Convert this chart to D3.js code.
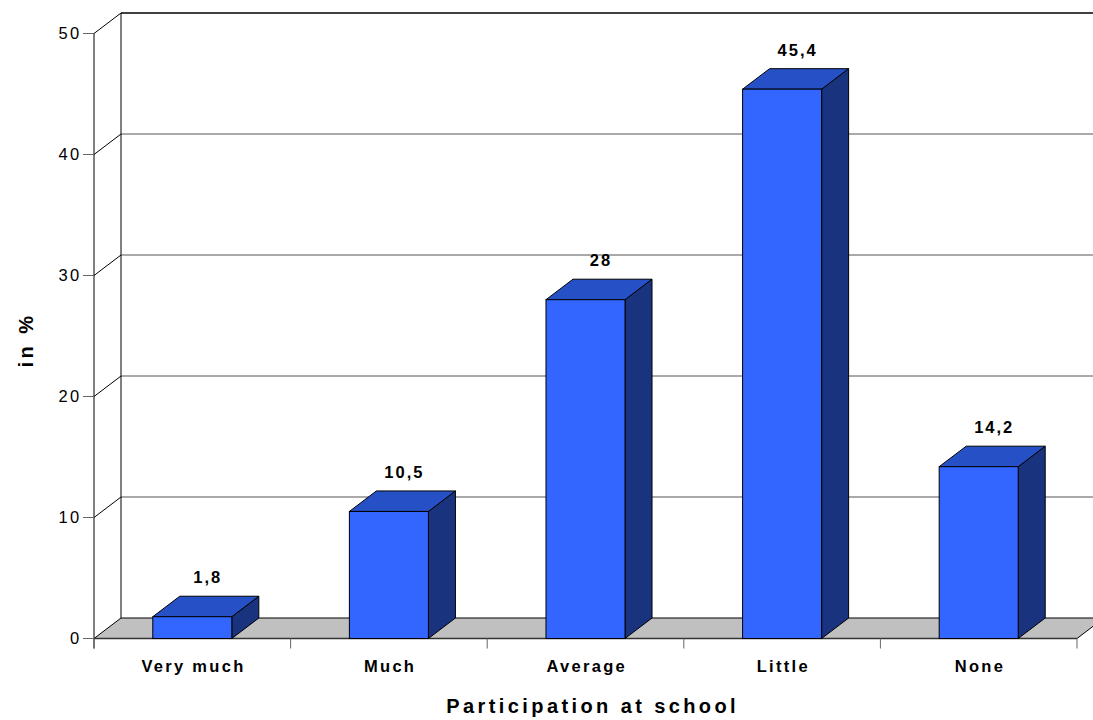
<!DOCTYPE html>
<html>
<head>
<meta charset="utf-8">
<script src="https://cdn.jsdelivr.net/npm/d3@7"></script>
<style>
  html, body { margin: 0; padding: 0; background: #fff; }
  svg { display: block; font-family: "Liberation Sans", Arial, sans-serif; }
</style>
</head>
<body>
<svg id="chart" width="1093" height="720"></svg>
<script>
// Share of pupils by level of participation at school (%)
const categories = ["Very much", "Much", "Average", "Little", "None"];
const values = [1.8, 10.5, 28, 45.4, 14.2];
const valueLabels = ["1,8", "10,5", "28", "45,4", "14,2"];
const yTicks = [0, 10, 20, 30, 40, 50];

const svg = d3.select("#chart");

// Front plane of the 3D box and the depth offset to the back wall
const x0 = 94, x1 = 1077;
const depthX = 27, depthY = -20.5;

const x = d3.scaleBand()
  .domain(categories)
  .range([x0, x1])
  .paddingInner(0.598)
  .paddingOuter(0.299);

const step = x.step();

const y = d3.scaleLinear().domain([0, 50]).range([638.5, 33.5]);

const colFront = "#3366FF", colTop = "#2650C6", colSide = "#1A337F";

// Floor
svg.append("polygon")
  .attr("points", [
    [x0, y(0)], [x1, y(0)], [x1 + depthX, y(0) + depthY], [x0 + depthX, y(0) + depthY]
  ].map(p => p.join(",")).join(" "))
  .attr("fill", "#C0C0C0")
  .attr("stroke", "#000")
  .attr("stroke-width", 1);

// Gridlines on the back wall and their diagonals on the side wall
const grid = svg.append("g");
yTicks.filter(t => t > 0).forEach(t => {
  grid.append("line")
    .attr("x1", x0 + depthX).attr("x2", 1100)
    .attr("y1", y(t) + depthY).attr("y2", y(t) + depthY)
    .attr("stroke", t === 50 ? "#000" : "#555")
    .attr("stroke-width", t === 50 ? 1.5 : 1);
  grid.append("line")
    .attr("x1", x0).attr("x2", x0 + depthX)
    .attr("y1", y(t)).attr("y2", y(t) + depthY)
    .attr("stroke", "#000").attr("stroke-width", 1);
});

// Back wall edge and front value axis
svg.append("line")
  .attr("x1", x0 + depthX).attr("x2", x0 + depthX)
  .attr("y1", y(50) + depthY).attr("y2", y(0) + depthY)
  .attr("stroke", "#000");
svg.append("line")
  .attr("x1", x0).attr("x2", x0)
  .attr("y1", y(50)).attr("y2", y(0) + 10)
  .attr("stroke", "#000");
svg.append("line")
  .attr("x1", x0).attr("x2", x1)
  .attr("y1", y(0)).attr("y2", y(0))
  .attr("stroke", "#333").attr("stroke-width", 1.5);

// Y axis ticks and labels
const yAxis = svg.append("g");
yTicks.forEach(t => {
  yAxis.append("line")
    .attr("x1", x0 - 11).attr("x2", x0)
    .attr("y1", y(t)).attr("y2", y(t))
    .attr("stroke", "#666");
  yAxis.append("text")
    .attr("x", 81.5).attr("y", y(t) + 5.8)
    .attr("text-anchor", "end")
    .attr("font-size", 16.5)
    .attr("letter-spacing", 2.3)
    .attr("fill", "#000")
    .text(t);
});

// Category ticks along the front baseline
const tickPositions = d3.range(categories.length + 1).map(i => x0 + i * step);
tickPositions.forEach(px => {
  svg.append("line")
    .attr("x1", px).attr("x2", px)
    .attr("y1", y(0)).attr("y2", y(0) + 10)
    .attr("stroke", "#666");
});

// Bars: side, top, front faces
const bars = svg.append("g").selectAll("g")
  .data(categories.map((c, i) => ({ c, v: values[i], label: valueLabels[i] })))
  .join("g");

bars.append("polygon")
  .attr("points", d => {
    const xr = x(d.c) + x.bandwidth();
    return [[xr, y(d.v)], [xr + depthX, y(d.v) + depthY], [xr + depthX, y(0) + depthY], [xr, y(0)]]
      .map(p => p.join(",")).join(" ");
  })
  .attr("fill", colSide).attr("stroke", "#000").attr("stroke-width", 1).attr("stroke-linejoin", "round");

bars.append("polygon")
  .attr("points", d => {
    const xl = x(d.c), xr = xl + x.bandwidth();
    return [[xl, y(d.v)], [xr, y(d.v)], [xr + depthX, y(d.v) + depthY], [xl + depthX, y(d.v) + depthY]]
      .map(p => p.join(",")).join(" ");
  })
  .attr("fill", colTop).attr("stroke", "#000").attr("stroke-width", 1).attr("stroke-linejoin", "round");

bars.append("rect")
  .attr("x", d => x(d.c))
  .attr("y", d => y(d.v))
  .attr("width", x.bandwidth())
  .attr("height", d => y(0) - y(d.v))
  .attr("fill", colFront).attr("stroke", "#000").attr("stroke-width", 1);

// Value labels above each bar
bars.append("text")
  .attr("x", d => x(d.c) + x.bandwidth() / 2 + depthX / 2 + 2)
  .attr("y", d => y(d.v) + depthY - 13)
  .attr("text-anchor", "middle")
  .attr("font-size", 16.5)
  .attr("font-weight", "bold")
  .attr("letter-spacing", 2)
  .attr("fill", "#000")
  .text(d => d.label);

// Category labels
svg.append("g").selectAll("text")
  .data(categories)
  .join("text")
  .attr("x", d => x(d) + x.bandwidth() / 2 + 1.2)
  .attr("y", 672)
  .attr("text-anchor", "middle")
  .attr("font-size", 16.5)
  .attr("font-weight", "bold")
  .attr("letter-spacing", 2.3)
  .attr("fill", "#000")
  .text(d => d);

// Axis titles
svg.append("text")
  .attr("x", 591 + 1.7).attr("y", 713)
  .attr("text-anchor", "middle")
  .attr("font-size", 20)
  .attr("font-weight", "bold")
  .attr("letter-spacing", 3.4)
  .attr("fill", "#000")
  .text("Participation at school");

svg.append("text")
  .attr("transform", "translate(33,340) rotate(-90)")
  .attr("text-anchor", "middle")
  .attr("font-size", 20)
  .attr("font-weight", "bold")
  .attr("letter-spacing", 3.5)
  .attr("fill", "#000")
  .text("in %");
</script>
</body>
</html>
